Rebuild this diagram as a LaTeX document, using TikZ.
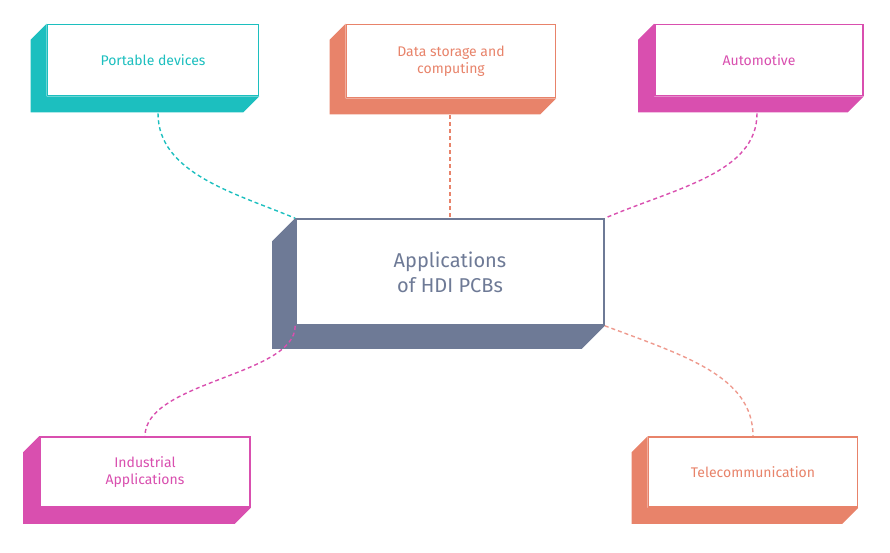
\documentclass[tikz,border=0pt]{standalone}
\usepackage{fontspec}
\setmainfont{Fira Sans}
\usetikzlibrary{calc}
\definecolor{tealc}{HTML}{1CBFBF}
\definecolor{orangec}{HTML}{E8836A}
\definecolor{pinkc}{HTML}{D94FAF}
\definecolor{slatec}{HTML}{6E7A96}
\definecolor{salmonc}{HTML}{EE9A8E}
% front face of a box, then its extrusion to the lower left
\newcommand\hdibox[8]{%
  \node[app box, draw=#2, text=#2, minimum width=#5pt, minimum height=#6pt] (#1) at (#3,#4) {#8};
  \fill[#2] (#1.north west) -- ++(-#7,#7) -- ($(#1.south west)+(-#7,#7)$)
    -- ($(#1.south east)+(-#7,#7)$) -- (#1.south east) -- (#1.south west) -- cycle;
}
\begin{document}
\begin{tikzpicture}[x=1pt,y=-1pt,
  app box/.style={rectangle, fill=white, line width=1.6pt, align=center, inner sep=2pt,
    font=\fontsize{14}{17}\selectfont},
  link/.style={dashed, line width=1.4pt, dash pattern=on 4pt off 3pt}]
\useasboundingbox (0,0) rectangle (890,552);

\hdibox{port}{tealc}{153}{60}{211}{71}{16}{Portable devices}
\hdibox{data}{orangec}{451}{61}{209}{73}{16}{Data storage and\\computing}
\hdibox{auto}{pinkc}{759}{60}{208}{71}{16}{Automotive}
\hdibox{ind}{pinkc}{145}{472}{210}{70}{16}{Industrial\\Applications}
\hdibox{tele}{orangec}{753}{472}{209}{70}{16}{Telecommunication}
\hdibox{hub}{slatec}{450}{272}{308}{106}{23}{}
\node[text=slatec, align=center, font=\fontsize{20}{25}\selectfont] (hubtext) at (hub) {Applications\\of HDI PCBs};

\draw[link, tealc] ([xshift=5pt,yshift=-17pt]port.south) .. controls +(0,60) and +(-60,-25) .. (hub.north west);
\draw[link, orangec] ([xshift=-1pt,yshift=-17pt]data.south) -- (hub.north);
\draw[link, pinkc] ([xshift=-2pt,yshift=-17pt]auto.south) .. controls +(0,60) and +(70,-30) .. (hub.north east);
\draw[link, pinkc] (hub.south west) .. controls +(0,50) and +(0,-55) .. (ind.north);
\draw[link, salmonc] (hub.south east) .. controls +(80,30) and +(0,-60) .. (tele.north);
\end{tikzpicture}
\end{document}
